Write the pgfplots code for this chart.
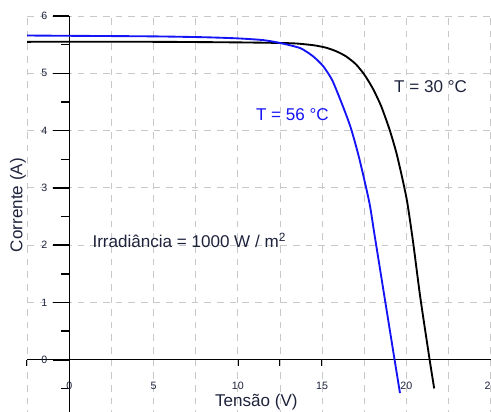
\documentclass[border=0pt]{standalone}
\usepackage{fontspec}
\setmainfont{Liberation Sans}
\usepackage{pgfplots}
\pgfplotsset{compat=1.18}

\definecolor{gridgray}{RGB}{200,200,200}
\definecolor{txt}{RGB}{30,35,60}
\definecolor{curveblue}{RGB}{20,20,245}

\pgfplotstableread{
v i
-2.5 5.55
5 5.55
10 5.54
12.5 5.53
13.5 5.52
14.5 5.49
15.2 5.45
15.8 5.39
16.4 5.30
17.0 5.16
17.5 4.98
18.0 4.74
18.5 4.43
19.0 4.02
19.4 3.62
19.75 3.18
20.05 2.75
20.4 2.05
20.82 1.10
21.38 0.00
21.65 -0.50
}\tthirty

\pgfplotstableread{
v i
-2.5 5.66
0 5.655
5 5.645
8 5.63
10 5.61
11.5 5.58
12.5 5.53
13.7 5.44
14.45 5.30
15.05 5.13
15.6 4.88
16.2 4.45
16.7 4.05
17.2 3.52
17.8 2.75
18.1 2.20
18.7 1.10
19.3 0.00
19.62 -0.58
}\tfiftysix

\pgfplotsset{
  base/.style={
    x=12.65pt, y=43pt,
    xmin=-2.5, xmax=25,
    ymin=-1, ymax=6,
    axis lines=middle,
    axis line style={-, black, line width=0.8pt},
    hide obscured x ticks=false,
    hide obscured y ticks=false,
    clip=false,
    xtick={0,5,...,25},
    minor xtick={-2.5,2.5,7.5,12.5,17.5,22.5},
    tick align=outside,
    tick style={black, line width=1.1pt},
  },
}

\begin{document}
\begin{tikzpicture}
% x ticks only (short)
\begin{axis}[base,
    hide y axis,
    xticklabels={},
    major tick length=4.5pt,
    minor tick length=4.5pt,
]
\end{axis}

\begin{axis}[base,
    ytick={0,1,...,6},
    minor ytick={-0.5,0.5,1.5,2.5,3.5,4.5,5.5},
    major tick length=12pt,
    minor tick length=6pt,
    xtick style={draw=none},
    minor x tick style={draw=none},
    xmajorgrids=true, xminorgrids=true, ymajorgrids=true,
    major grid style={gridgray, line width=0.7pt, dash pattern=on 5pt off 4.5pt},
    minor grid style={gridgray, line width=0.7pt, dash pattern=on 5pt off 4.5pt},
    ticklabel style={font=\fontsize{8}{9}\selectfont, text=txt},
    /pgf/number format/assume math mode=true,
    xticklabel style={anchor=north, yshift=-1pt},
    yticklabel style={anchor=east, xshift=-1pt},
]

\addplot[black, line width=1.4pt, smooth, tension=0.4] table[x=v, y=i] {\tthirty};
\addplot[curveblue, line width=1.4pt, smooth, tension=0.4] table[x=v, y=i] {\tfiftysix};

\node[anchor=west, text=txt, font=\fontsize{12.8}{15}\selectfont] at (axis cs:19.0,4.76) {T = 30 °C};
\node[anchor=west, text=curveblue, font=\fontsize{12.8}{15}\selectfont] at (axis cs:10.8,4.28) {T = 56 °C};
\node[anchor=west, text=txt, font=\fontsize{12.8}{15}\selectfont] at (axis cs:1.1,2.08) {Irradiância = 1000 W / m\textsuperscript{2}};
\node[rotate=90, text=txt, font=\fontsize{12.8}{15}\selectfont] at (axis cs:-3.05,2.7) {Corrente (A)};
\node[text=txt, font=\fontsize{12.8}{15}\selectfont] at (axis cs:11.1,-0.73) {Tensão (V)};

\coordinate (bl) at (axis cs:-4.11,-0.907);
\coordinate (tr) at (axis cs:25.02,6.28);
\end{axis}
\pgfresetboundingbox
\useasboundingbox (bl) rectangle (tr);
\end{tikzpicture}
\end{document}
